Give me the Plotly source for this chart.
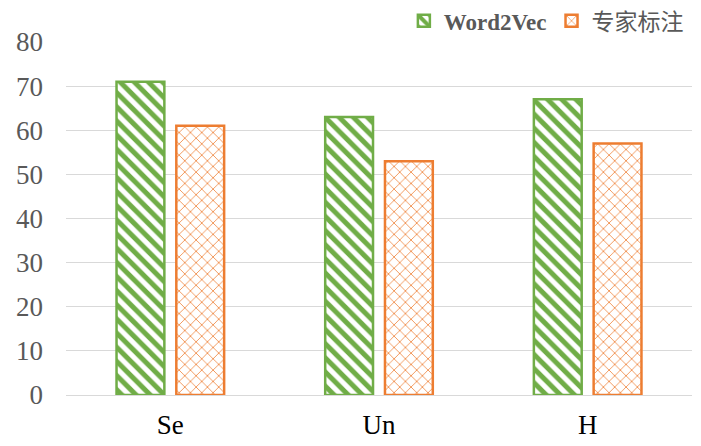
import plotly.graph_objects as go

categories = ["Se", "Un", "H"]
word2vec = [71, 63, 67]
expert = [61, 53, 57]
series_names = ["Word2Vec", "专家标注"]
y_ticks = [0, 10, 20, 30, 40, 50, 60, 70, 80]

GREEN = "#70AD47"
ORANGE = "#ED7D31"

fig = go.Figure()
fig.add_trace(go.Bar(
    x=categories, y=word2vec, name="<b>" + series_names[0] + "</b>",
    marker=dict(color="white", line=dict(color=GREEN, width=2.5),
                pattern=dict(shape="\\", fgcolor=GREEN, bgcolor="white", fgopacity=1,
                             size=10, solidity=0.5)),
))
fig.add_trace(go.Bar(
    x=categories, y=expert, name=series_names[1],
    marker=dict(color="white", line=dict(color=ORANGE, width=2.5),
                pattern=dict(shape="x", fgcolor=ORANGE, bgcolor="white", fgopacity=1,
                             size=8, solidity=0.18)),
))

fig.update_layout(
    width=701, height=446,
    margin=dict(l=66, r=9, t=42, b=51, autoexpand=False),
    paper_bgcolor="white", plot_bgcolor="white",
    barmode="group", bargap=0.427, bargroupgap=0.2,
    font=dict(family="Liberation Serif", color="#595959"),
    legend=dict(orientation="h", x=0.995, xanchor="right", y=1.06, yanchor="middle",
                font=dict(size=23, family="Liberation Serif, Noto Sans CJK SC", color="#595959"),
                itemwidth=30, tracegroupgap=0, bgcolor="rgba(0,0,0,0)"),
    showlegend=True,
)
fig.update_yaxes(range=[0, 80], tickvals=y_ticks, showgrid=True, gridcolor="#D9D9D9",
                 gridwidth=1, zeroline=False, showline=False,
                 tickfont=dict(size=27, family="Liberation Serif", color="#595959"),
                 ticklabelstandoff=22, ticks="")
fig.update_xaxes(showline=True, linecolor="#D9D9D9", linewidth=1,
                 tickfont=dict(size=27, family="Liberation Serif", color="#000000"),
                 ticks="", ticklabelstandoff=6)

fig.write_html("out.html", config={"displayModeBar": False},
               post_script="document.body.style.margin='0px';")
